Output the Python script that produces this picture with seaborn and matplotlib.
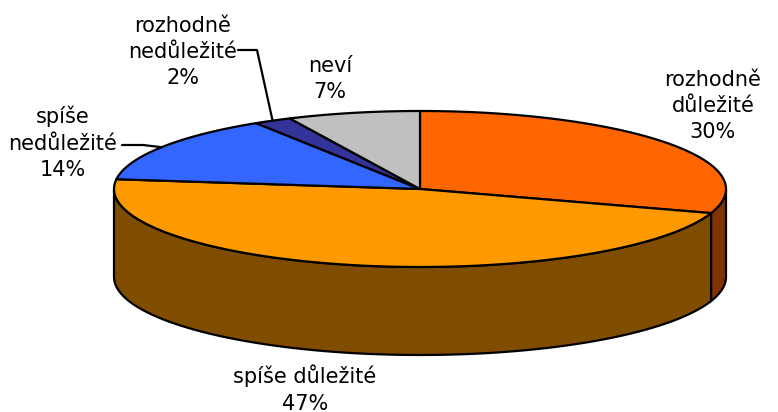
import numpy as np
import matplotlib
matplotlib.use("Agg")
import matplotlib.pyplot as plt
import seaborn as sns
from matplotlib.patches import Polygon

# data
labels = ["rozhodně\ndůležité", "spíše důležité", "spíše\nnedůležité", "rozhodně\nnedůležité", "neví"]
values = [30, 47, 14, 2, 7]
top_colors = ["#FF6600", "#FF9900", "#3366FF", "#333399", "#C0C0C0"]
side_colors = ["#803300", "#7F4C00", "#1A3380", "#1A1A4C", "#606060"]

sns.set_theme(style="white")
plt.rcParams['font.family'] = ['DejaVu Sans']

# ellipse geometry in pixel coords
cx, cy = 420, 189
rx, ry = 306, 78
depth = 88


def pt(theta_deg, dy=0):
    t = np.radians(theta_deg)
    return cx + rx * np.cos(t), cy - ry * np.sin(t) + dy


fig = plt.figure(figsize=(7.78, 4.12), dpi=100)
ax = fig.add_axes([0, 0, 1, 1])
ax.set_xlim(0, 778)
ax.set_ylim(412, 0)
ax.axis("off")

# slice angles: start at 12 o'clock, clockwise
fracs = np.array(values) / sum(values)
starts = 90 - 360 * np.concatenate([[0], np.cumsum(fracs)[:-1]])
ends = starts - 360 * fracs

lw = 1.6

# sides (front half only: angles 180..360)
for s, e, c in zip(starts, ends, side_colors):
    a0 = s % 360
    a1 = a0 - (s - e)
    lo, hi = min(a0, a1), max(a0, a1)
    for off in (-360, 0, 360):
        l, h = max(lo + off, 180), min(hi + off, 360)
        if h > l:
            th = np.linspace(l, h, 80)
            top = np.array([pt(t) for t in th])
            bot = np.array([pt(t, depth) for t in th[::-1]])
            ax.add_patch(Polygon(np.vstack([top, bot]), closed=True, fc=c,
                                 ec="black", lw=lw, joinstyle="round"))

# top wedges
for s, e, c in zip(starts, ends, top_colors):
    th = np.linspace(s, e, 120)
    arc = np.array([pt(t) for t in th])
    poly = np.vstack([[cx, cy], arc])
    ax.add_patch(Polygon(poly, closed=True, fc=c, ec="black", lw=lw,
                         joinstyle="round"))

# labels
fs = 15
ls = 1.4
texts = [f"{l}\n{v}%" for l, v in zip(labels, values)]
label_pos = [(713, 106), (305, 389), (63, 143), (183, 52), (330, 79)]
for t, (x, y) in zip(texts, label_pos):
    ax.text(x, y, t, ha="center", va="center", fontsize=fs,
            linespacing=ls, color="black", multialignment="center")

# leader lines
mid = (starts + ends) / 2
mx, my = pt(mid[2])
ax.plot([122, 143, mx], [145, 145, my], color="black", lw=lw)
mx, my = pt(mid[3])
ax.plot([238, 257, mx], [50, 50, my], color="black", lw=lw)

fig.savefig("out.png", dpi=100)
